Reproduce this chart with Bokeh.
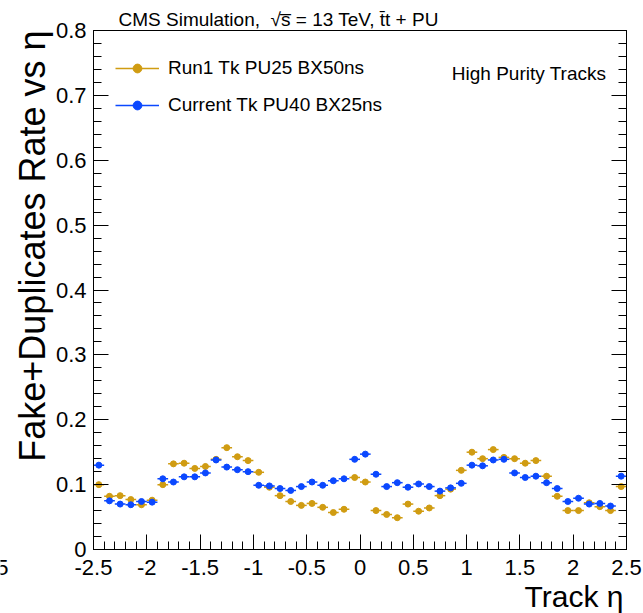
import math
from bokeh.plotting import figure
from bokeh.layouts import row
from bokeh.models import (Range1d, LinearAxis, Label, Legend, LegendItem, Title,
                          ColumnDataSource, FixedTicker)
from bokeh.embed import file_html
from bokeh.resources import INLINE

# ---------------- data ----------------
eta = [-2.45, -2.35, -2.25, -2.15, -2.05, -1.95, -1.85, -1.75, -1.65, -1.55,
       -1.45, -1.35, -1.25, -1.15, -1.05, -0.95, -0.85, -0.75, -0.65, -0.55,
       -0.45, -0.35, -0.25, -0.15, -0.05, 0.05, 0.15, 0.25, 0.35, 0.45,
       0.55, 0.65, 0.75, 0.85, 0.95, 1.05, 1.15, 1.25, 1.35, 1.45,
       1.55, 1.65, 1.75, 1.85, 1.95, 2.05, 2.15, 2.25, 2.35, 2.45]

run1_pu25 = [0.100, 0.082, 0.083, 0.077, 0.069, 0.076, 0.100, 0.132, 0.133, 0.125,
             0.128, 0.139, 0.157, 0.143, 0.137, 0.119, 0.096, 0.083, 0.074, 0.068,
             0.071, 0.065, 0.057, 0.062, 0.111, 0.104, 0.060, 0.054, 0.049, 0.070,
             0.059, 0.064, 0.083, 0.093, 0.122, 0.150, 0.140, 0.154, 0.142, 0.140,
             0.133, 0.137, 0.113, 0.082, 0.060, 0.060, 0.072, 0.066, 0.060, 0.097]

current_pu40 = [0.130, 0.075, 0.070, 0.069, 0.074, 0.073, 0.109, 0.104, 0.112, 0.112,
                0.118, 0.138, 0.127, 0.123, 0.120, 0.099, 0.098, 0.094, 0.091, 0.097,
                0.104, 0.099, 0.106, 0.109, 0.139, 0.147, 0.116, 0.097, 0.103, 0.096,
                0.101, 0.097, 0.090, 0.095, 0.102, 0.130, 0.129, 0.138, 0.139, 0.118,
                0.111, 0.113, 0.103, 0.094, 0.074, 0.079, 0.070, 0.071, 0.067, 0.113]

stat_err = 0.004
bin_half_width = 0.05

series_labels = ["Run1 Tk PU25 BX50ns", "Current Tk PU40 BX25ns"]

x_ticks = [-2.5, -2.0, -1.5, -1.0, -0.5, 0.0, 0.5, 1.0, 1.5, 2.0, 2.5]
x_tick_labels = ["-2.5", "-2", "-1.5", "-1", "-0.5", "0", "0.5", "1", "1.5", "2", "2.5"]
x_minor = [round(-2.5 + 0.1 * i, 2) for i in range(51)]

y_ticks = [0.0, 0.1, 0.2, 0.3, 0.4, 0.5, 0.6, 0.7, 0.8]
y_tick_labels = ["0", "0.1", "0.2", "0.3", "0.4", "0.5", "0.6", "0.7", "0.8"]
y_minor = [round(0.02 * i, 2) for i in range(41)]

title_text = "CMS Simulation,\u00a0 \u221as\u0305 = 13 TeV, t\u0304t + PU"
y_title = "Fake+Duplicates Rate vs \u03b7"
x_title = "Track \u03b7"
stray_text = "5"

# ---------------- layout ----------------
H = 613
SW = 9                    # narrow strip on the far left
W = 643 - SW
L, R, T, B = 83, 17, 30, 64
FONT = "Liberation Sans"
ORANGE = "#D09C12"
BLUE = "#0B48FF"
INK = "black"

X0, X1, Y0, Y1 = -2.5, 2.5, 0.0, 0.8

p = figure(width=W, height=H, x_range=Range1d(X0, X1), y_range=Range1d(Y0, Y1),
           output_backend="svg", toolbar_location=None,
           min_border_left=L, min_border_right=R, min_border_top=T, min_border_bottom=B)
p.grid.visible = False
p.outline_line_color = INK
p.outline_line_width = 1
p.background_fill_color = "white"
p.border_fill_color = "white"


def style_axis(ax):
    ax.axis_line_color = INK
    ax.major_tick_in = 15
    ax.major_tick_out = 0
    ax.minor_tick_in = 8
    ax.minor_tick_out = 0
    ax.major_tick_line_color = INK
    ax.minor_tick_line_color = INK
    ax.major_label_text_font = FONT
    ax.major_label_text_color = INK
    ax.major_label_text_font_size = "22px"


xa = p.xaxis[0]
xa.ticker = FixedTicker(ticks=x_ticks, minor_ticks=x_minor)
xa.major_label_overrides = {t: s for t, s in zip(x_ticks, x_tick_labels)}
style_axis(xa)
xa.major_label_standoff = 10

ya = p.yaxis[0]
ya.ticker = FixedTicker(ticks=y_ticks, minor_ticks=y_minor)
ya.major_label_overrides = {t: s for t, s in zip(y_ticks, y_tick_labels)}
style_axis(ya)
ya.major_label_standoff = 7

ra = LinearAxis(ticker=FixedTicker(ticks=y_ticks, minor_ticks=y_minor))
style_axis(ra)
ra.major_label_overrides = {t: "" for t in y_ticks}
ra.major_label_standoff = 0
p.add_layout(ra, "right")


def draw(values, color):
    src = ColumnDataSource(dict(
        x=eta, y=values,
        xl=[e - bin_half_width for e in eta], xr=[e + bin_half_width for e in eta],
        yl=[v - stat_err for v in values], yh=[v + stat_err for v in values]))
    h = p.segment(x0="xl", y0="y", x1="xr", y1="y", source=src, line_color=color, line_width=1.5)
    p.segment(x0="x", y0="yl", x1="x", y1="yh", source=src, line_color=color, line_width=1.5)
    d = p.scatter(x="x", y="y", source=src, size=6, marker="circle",
                  fill_color=color, line_color=color)
    return h, d


h1, d1 = draw(run1_pu25, ORANGE)
h2, d2 = draw(current_pu40, BLUE)

legend = Legend(items=[LegendItem(label=series_labels[0], renderers=[h1, d1]),
                       LegendItem(label=series_labels[1], renderers=[h2, d2])],
                location=(22, 433), background_fill_alpha=0, border_line_alpha=0,
                label_text_font=FONT, label_text_font_size="19px", label_text_color=INK,
                glyph_width=44, glyph_height=22, label_height=22, spacing=15,
                padding=0, margin=0, label_standoff=9)
p.add_layout(legend)

# top title
p.title.text = title_text
p.title.align = "left"
p.title.offset = 25
p.title.text_font = FONT
p.title.text_font_size = "19px"
p.title.text_font_style = "normal"
p.title.text_color = INK
p.title.standoff = 2

# inner label
fw = W - L - R
fh = H - T - B
p.add_layout(Label(x=X0 + (451 - SW - L) * (X1 - X0) / fw, y=Y0 + (H - B - 73) * (Y1 - Y0) / fh,
                   text="High Purity Tracks", text_font=FONT, text_color=INK,
                   text_font_size="19px", text_baseline="middle"))

# axis titles (ROOT style: aligned to the axis ends)
yt = Title(text=y_title, align="right", text_font=FONT, text_font_size="36px",
           text_font_style="normal", text_color=INK, standoff=0)
p.add_layout(yt, "left")
xt = Title(text=x_title, align="right", offset=3, text_font=FONT, text_font_size="30px",
           text_font_style="normal", text_color=INK, standoff=0)
p.add_layout(xt, "below")

# narrow strip at far left holding the clipped stray label
q = figure(width=SW, height=H, x_range=Range1d(0, SW), y_range=Range1d(0, H),
           output_backend="svg", toolbar_location=None, min_border=0,
           x_axis_type=None, y_axis_type=None)
q.outline_line_color = None
q.frame_align = False
q.add_layout(Label(x=SW - 1, y=H - 567, text=stray_text, text_font=FONT, text_color=INK,
                   text_font_size="22px", text_align="right", text_baseline="middle"))

layout = row(q, p, spacing=0)
open("out.html", "w").write(file_html(layout, INLINE))
